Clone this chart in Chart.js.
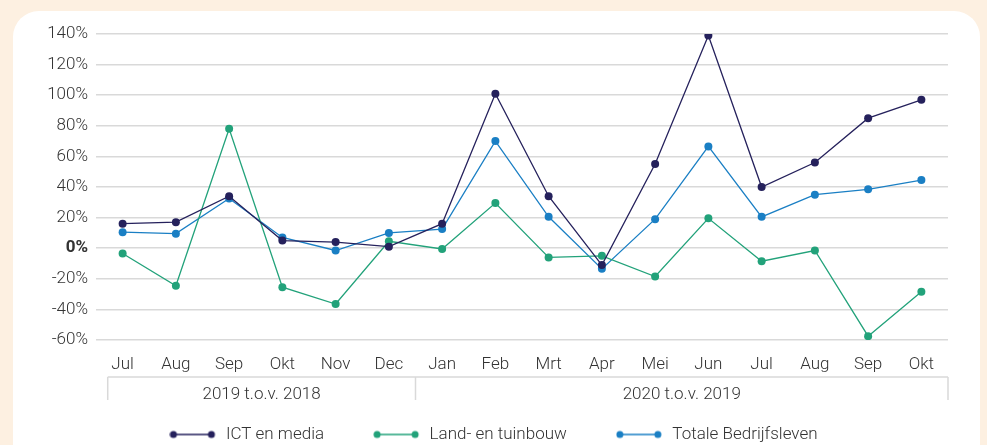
<!DOCTYPE html>
<html>
<head>
<meta charset="utf-8">
<script src="https://cdn.jsdelivr.net/npm/chart.js@4/dist/chart.umd.min.js"></script>
<style>
  html, body { margin: 0; padding: 0; }
  body { width: 987px; height: 445px; background: #fdf0e1; overflow: hidden; position: relative; }
  #card { position: absolute; left: 13px; top: 11px; width: 967px; height: 470px; background: #fff; border-radius: 26px; }
  #wrap { position: absolute; left: 0; top: 0; width: 987px; height: 453px; }
</style>
</head>
<body>
<div id="card"></div>
<div id="wrap"><canvas id="myChart"></canvas></div>
<script>
const NAVY_COLOR = '#25215c';
const GREEN_COLOR = '#22a27a';
const BLUE_COLOR = '#1a7fc4';
const TEXT_COLOR = '#333333';
const GRID_COLOR = '#d9d9d9';
const FONT_SIZE = 17;

const months = ['Jul', 'Aug', 'Sep', 'Okt', 'Nov', 'Dec', 'Jan', 'Feb', 'Mrt', 'Apr', 'Mei', 'Jun', 'Jul', 'Aug', 'Sep', 'Okt'];
const groups = ['2019 t.o.v. 2018', '2020 t.o.v. 2019'];
const ict_media = [16, 17, 34, 5, 4, 1, 16, 101, 34, -11, 55, 139, 40, 56, 85, 97];
const land_tuinbouw = [-3.5, -24.5, 78, -25.5, -36.5, 4.5, -0.5, 29.5, -6, -5, -18.5, 19.5, -8.5, -1.5, -57.5, -28.5];
const totaal = [10.5, 9.5, 32.5, 7, -1.5, 10, 12.5, 70, 20.5, -13.5, 19, 66.5, 20.5, 35, 38.5, 44.5];

// legend icon: line with a dot at each end
function legendIcon(color) {
    let c = document.createElement('canvas');
    c.width = 48;
    c.height = 10;
    let g = c.getContext('2d');
    g.strokeStyle = color;
    g.fillStyle = color;
    g.lineWidth = 1.5;
    g.beginPath();
    g.moveTo(4, 5);
    g.lineTo(42, 5);
    g.stroke();
    [4, 42].forEach(x => {
        g.beginPath();
        g.arc(x, 5, 3.5, 0, Math.PI * 2);
        g.fill();
    });
    return c;
}

// boxes with the period labels under the months
const groupBoxes = {
    id: 'groupBoxes',
    afterDraw(chart) {
        let ctx = chart.ctx;
        let x = chart.scales.x;
        let top = x.bottom;
        let edges = [x.getPixelForValue(-0.28), x.getPixelForValue(5.5), x.getPixelForValue(15.5)];
        ctx.save();
        ctx.strokeStyle = GRID_COLOR;
        ctx.lineWidth = 1.5;
        ctx.beginPath();
        ctx.moveTo(edges[0], top);
        ctx.lineTo(edges[2], top);
        edges.forEach(e => {
            ctx.moveTo(e, top);
            ctx.lineTo(e, top + 23);
        });
        ctx.stroke();
        ctx.fillStyle = TEXT_COLOR;
        ctx.font = '300 ' + FONT_SIZE + 'px Roboto';
        ctx.textAlign = 'center';
        ctx.textBaseline = 'middle';
        groups.forEach((label, i) => {
            ctx.fillText(label, (edges[i] + edges[i + 1]) / 2, top + 18);
        });
        ctx.restore();
    }
};

function makeDataset(label, data, color) {
    return {
        label: label,
        data: data,
        borderColor: color,
        backgroundColor: color,
        borderWidth: 1.3,
        pointRadius: 4,
        pointHoverRadius: 4,
        pointBorderWidth: 0,
        pointStyle: 'circle',
        tension: 0
    };
}

function makeChart() {
    let ctx = document.getElementById('myChart').getContext('2d');
    let datasets = [
        makeDataset('ICT en media', ict_media, NAVY_COLOR),
        makeDataset('Land- en tuinbouw', land_tuinbouw, GREEN_COLOR),
        makeDataset('Totale Bedrijfsleven', totaal, BLUE_COLOR)
    ];

    return new Chart(ctx, {
        type: 'line',
        data: {
            labels: months,
            datasets: datasets
        },
        options: {
            responsive: true,
            maintainAspectRatio: false,
            animation: false,
            layout: { padding: { left: 39, right: 39, top: 34, bottom: 0 } },
            plugins: {
                tooltip: { enabled: false },
                legend: {
                    position: 'bottom',
                    labels: {
                        usePointStyle: true,
                        pointStyleWidth: 48,
                        padding: 49,
                        color: TEXT_COLOR,
                        font: { family: 'Roboto', size: FONT_SIZE, weight: 300 },
                        generateLabels(chart) {
                            return chart.data.datasets.map((d, i) => ({
                                text: d.label,
                                pointStyle: legendIcon(d.borderColor),
                                fillStyle: d.borderColor,
                                strokeStyle: d.borderColor,
                                lineWidth: 0,
                                fontColor: TEXT_COLOR,
                                datasetIndex: i
                            }));
                        }
                    }
                }
            },
            scales: {
                x: {
                    offset: true,
                    grid: { display: false, drawTicks: false },
                    border: { display: false },
                    ticks: {
                        padding: 15,
                        color: TEXT_COLOR,
                        font: { family: 'Roboto', size: FONT_SIZE, weight: 300 },
                        autoSkip: false,
                        maxRotation: 0
                    },
                    afterFit(scale) { scale.height = 37; }
                },
                y: {
                    min: -60,
                    max: 140,
                    grid: { color: GRID_COLOR, lineWidth: 1.5, drawTicks: false },
                    border: { display: false },
                    ticks: {
                        stepSize: 20,
                        padding: 8,
                        color: TEXT_COLOR,
                        font: (c) => ({ family: 'Roboto', size: FONT_SIZE, weight: c.tick && c.tick.value === 0 ? 'bold' : 300 }),
                        callback: (v) => v + '%'
                    },
                    afterFit(scale) { scale.width = 57; }
                }
            }
        },
        plugins: [groupBoxes]
    });
}

makeChart();
</script>
</body>
</html>
